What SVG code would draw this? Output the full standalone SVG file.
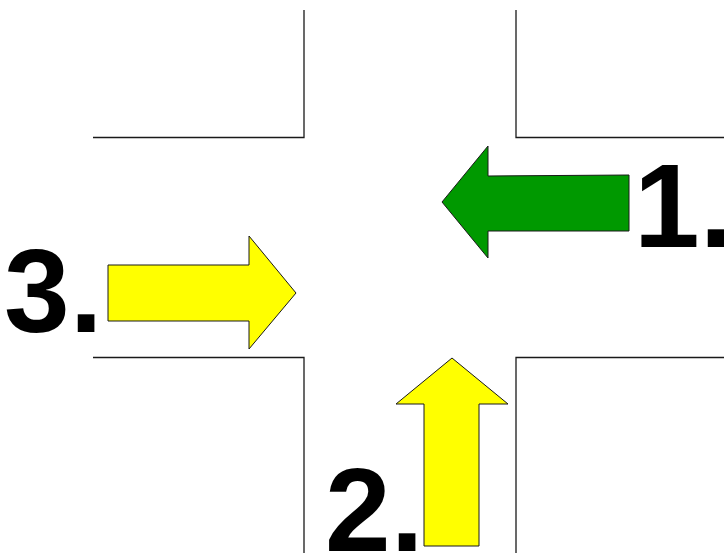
<svg xmlns="http://www.w3.org/2000/svg" width="724" height="560" viewBox="0 0 724 560">
<style>
.road{fill:none;stroke:#1a1a1a;stroke-width:1.3}
.arr{stroke:#1a1a1a;stroke-width:1}
.num{font-family:"Liberation Sans",Arial,sans-serif;font-weight:bold;font-size:118px;fill:#000}
</style>
<rect width="724" height="560" fill="#fff"/>
<g id="roads">
<polyline class="road" points="93,137.5 304,137.5 304,10"/>
<polyline class="road" points="516,10 516,137.5 724,137.5"/>
<polyline class="road" points="93,357.5 304,357.5 304,553"/>
<polyline class="road" points="516,553 516,357.5 724,357.5"/>
</g>
<g id="arrow1">
<polygon class="arr" fill="#009900" points="442,202 488,146 488,176 629,175 629,231 488,231 488,258"/>
<text class="num" x="634" y="247">1.</text>
</g>
<g id="arrow2">
<polygon class="arr" fill="#ffff00" points="452,358 508,404 479,404 479,546 424,546 424,404 396,404"/>
<text class="num" x="325" y="551">2.</text>
</g>
<g id="arrow3">
<polygon class="arr" fill="#ffff00" points="108,265 249,265 249,236 296,293 249,349 249,321 108,321"/>
<text class="num" x="4" y="332">3.</text>
</g>
</svg>
